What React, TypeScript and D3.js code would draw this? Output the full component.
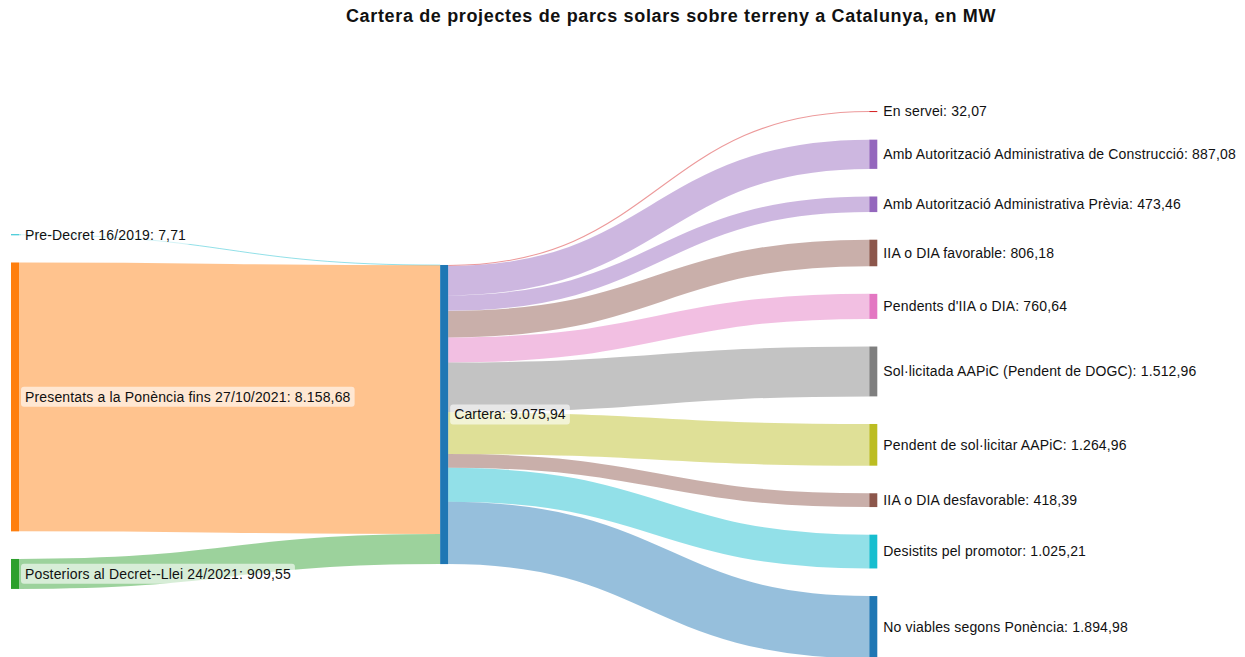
import React, { useEffect, useRef } from "react";
import * as d3 from "d3";

// ---------- data ----------
const chartTitle = "Cartera de projectes de parcs solars sobre terreny a Catalunya, en MW";

const sourceNames = [
  "Pre-Decret 16/2019",
  "Presentats a la Ponència fins 27/10/2021",
  "Posteriors al Decret--Llei 24/2021",
];
const sourceValues = [7.71, 8158.68, 909.55];

const hubName = "Cartera";

const targetNames = [
  "En servei",
  "Amb Autorització Administrativa de Construcció",
  "Amb Autorització Administrativa Prèvia",
  "IIA o DIA favorable",
  "Pendents d'IIA o DIA",
  "Sol·licitada AAPiC (Pendent de DOGC)",
  "Pendent de sol·licitar AAPiC",
  "IIA o DIA desfavorable",
  "Desistits pel promotor",
  "No viables segons Ponència",
];
const targetValues = [32.07, 887.08, 473.46, 806.18, 760.64, 1512.96, 1264.96, 418.39, 1025.21, 1894.98];

// ---------- styles ----------
const sourceColors = ["#17becf", "#ff7f0e", "#2ca02c"];
const hubColor = "#1f77b4";
const targetColors = [
  "#d62728", "#9467bd", "#9467bd", "#8c564b", "#e377c2",
  "#7f7f7f", "#bcbd22", "#8c564b", "#17becf", "#1f77b4",
];

const W = 1245;
const H = 680;
const layout = { top: 111, bottom: 658.5, left: 11, lastColX: 869.3, nodeWidth: 8, nodePadding: 27.6 };
const FONT = "'Liberation Sans', Arial, Helvetica, sans-serif";

const locale = d3.formatLocale({ decimal: ",", thousands: ".", grouping: [3], currency: ["", "€"] });
const fmt = locale.format(",.2f");

type N = { name: string; value: number; color: string; x0: number; x1: number; y0: number; y1: number };
type L = { sy: number; ty: number; w: number; sx: number; tx: number; color: string };

export default function App() {
  const ref = useRef<SVGSVGElement | null>(null);

  useEffect(() => {
    const svg = d3.select(ref.current);
    svg.selectAll("*").remove();

    const colX = d3.scaleLinear().domain([0, 2]).range([layout.left, layout.lastColX]);
    const hubValue = d3.sum(sourceValues);
    const cols = [sourceValues, [hubValue], targetValues];
    const ky = d3.min(cols, (c) => (layout.bottom - layout.top - (c.length - 1) * layout.nodePadding) / d3.sum(c)) as number;

    const mk = (name: string, value: number, color: string, col: number): N => ({
      name, value, color, x0: colX(col), x1: colX(col) + layout.nodeWidth, y0: 0, y1: 0,
    });

    // right column stacked from top
    const targets = targetNames.map((n, i) => mk(n, targetValues[i], targetColors[i], 2));
    let y = layout.top;
    targets.forEach((t) => { t.y0 = y; t.y1 = y + t.value * ky; y = t.y1 + layout.nodePadding; });

    // hub centered on weighted mean of targets
    const hub = mk(hubName, hubValue, hubColor, 1);
    const hubCenter = d3.sum(targets, (t) => t.value * (t.y0 + t.y1) / 2) / d3.sum(targets, (t) => t.value);
    hub.y0 = hubCenter - (hubValue * ky) / 2;
    hub.y1 = hubCenter + (hubValue * ky) / 2;

    // left column stacked, shifted so weighted mean center matches hub
    const sources = sourceNames.map((n, i) => mk(n, sourceValues[i], sourceColors[i], 0));
    y = 0;
    sources.forEach((s) => { s.y0 = y; s.y1 = y + s.value * ky; y = s.y1 + layout.nodePadding; });
    const sc = d3.sum(sources, (s) => s.value * (s.y0 + s.y1) / 2) / d3.sum(sources, (s) => s.value);
    const shift = hubCenter - sc;
    sources.forEach((s) => { s.y0 += shift; s.y1 += shift; });

    // links
    const links: L[] = [];
    let hy = hub.y0;
    sources.forEach((s) => {
      const w = s.value * ky;
      links.push({ sx: s.x1, sy: (s.y0 + s.y1) / 2, tx: hub.x0, ty: hy + w / 2, w, color: s.color });
      hy += w;
    });
    hy = hub.y0;
    targets.forEach((t) => {
      const w = t.value * ky;
      links.push({ sx: hub.x1, sy: hy + w / 2, tx: t.x0, ty: (t.y0 + t.y1) / 2, w, color: t.color });
      hy += w;
    });

    const linkGen = d3.linkHorizontal<any, any>()
      .source((d: L) => [d.sx, d.sy])
      .target((d: L) => [d.tx, d.ty]);

    svg.append("g")
      .attr("fill", "none")
      .selectAll("path")
      .data(links)
      .join("path")
      .attr("d", (d) => linkGen(d) as string)
      .attr("stroke", (d) => d.color)
      .attr("stroke-opacity", 0.47)
      .attr("stroke-width", (d) => Math.max(1, d.w));

    const nodes = [...sources, hub, ...targets];
    svg.append("g")
      .selectAll("rect")
      .data(nodes)
      .join("rect")
      .attr("x", (d) => d.x0)
      .attr("width", (d) => d.x1 - d.x0)
      .attr("y", (d) => ((d.y1 - d.y0) < 1 ? (d.y0 + d.y1) / 2 - 0.5 : d.y0))
      .attr("height", (d) => Math.max(1, d.y1 - d.y0))
      .attr("fill", (d) => d.color);

    const lg = svg.append("g");
    const labels = lg.selectAll("g").data(nodes).join("g");
    const texts = labels.append("text")
      .attr("x", (d) => d.x1 + 6)
      .attr("y", (d) => (d.y0 + d.y1) / 2)
      .attr("dy", "0.35em")
      .attr("font-family", FONT)
      .attr("font-size", 14)
      .attr("letter-spacing", 0.16)
      .attr("fill", "#111")
      .text((d) => `${d.name}: ${fmt(d.value)}`);
    texts.each(function () {
      const el = this as SVGTextElement;
      const bb = el.getBBox();
      const g = d3.select(el.parentNode as SVGGElement);
      g.insert("rect", "text")
        .attr("x", bb.x - 4)
        .attr("y", bb.y + bb.height / 2 - 10)
        .attr("width", bb.width + 8)
        .attr("height", 20)
        .attr("rx", 3)
        .attr("fill", "#fff")
        .attr("fill-opacity", 0.6);
    });

    svg.append("text")
      .attr("x", 671)
      .attr("y", 22)
      .attr("text-anchor", "middle")
      .attr("font-family", FONT)
      .attr("font-weight", "bold")
      .attr("font-size", 18)
      .attr("letter-spacing", 0.65)
      .attr("fill", "#111")
      .text(chartTitle);
  }, []);

  return (
    <svg
      ref={ref}
      width={W}
      height={H}
      style={{ position: "absolute", left: 0, top: 0, background: "#fff" }}
    />
  );
}
